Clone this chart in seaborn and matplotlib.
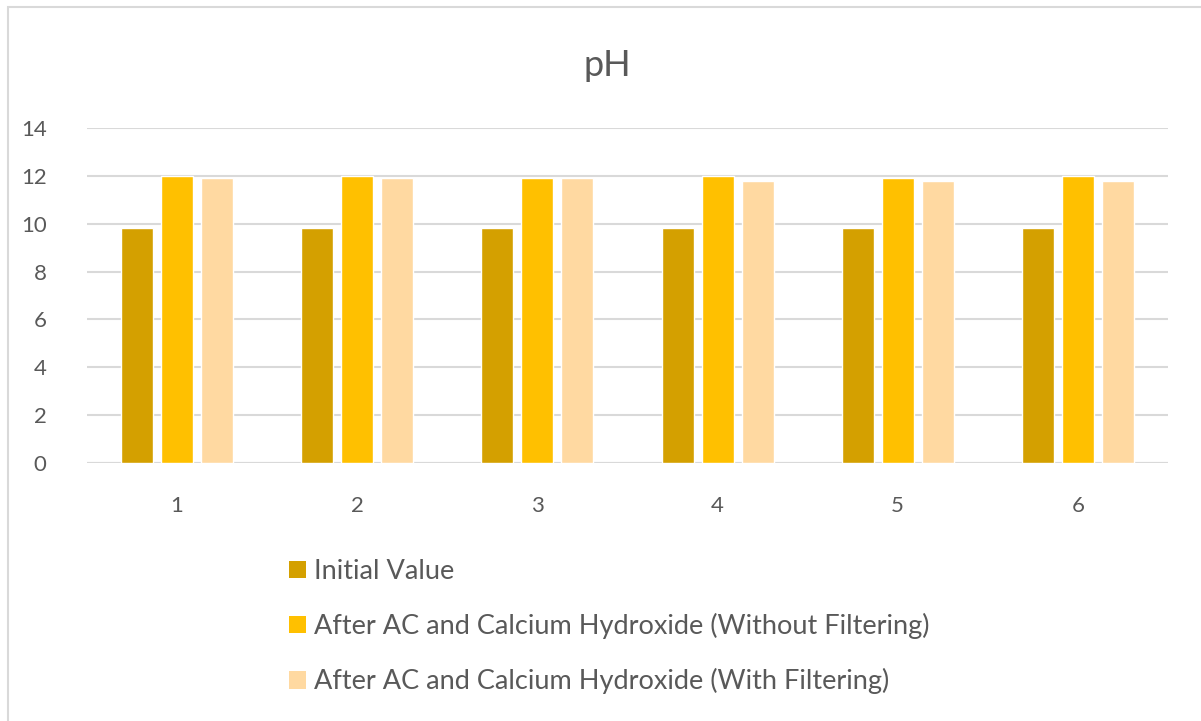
import matplotlib
matplotlib.use("Agg")
import matplotlib.pyplot as plt
from matplotlib.patches import Rectangle
import seaborn as sns
import pandas as pd

samples = ["1", "2", "3", "4", "5", "6"]
initial_value = [9.8, 9.8, 9.8, 9.8, 9.8, 9.8]
without_filtering = [12.0, 12.0, 11.9, 12.0, 11.9, 12.0]
with_filtering = [11.9, 11.9, 11.9, 11.8, 11.8, 11.8]

series_names = [
    "Initial Value",
    "After AC and Calcium Hydroxide (Without Filtering)",
    "After AC and Calcium Hydroxide (With Filtering)",
]
series_colors = ["#D4A000", "#FFC000", "#FFD9A1"]
y_ticks = [0, 2, 4, 6, 8, 10, 12, 14]

df = pd.DataFrame({
    "Sample": samples * 3,
    "pH": initial_value + without_filtering + with_filtering,
    "Series": [series_names[0]] * 6 + [series_names[1]] * 6 + [series_names[2]] * 6,
})

sns.set_theme(style="white")
plt.rcParams["font.family"] = ["Lato", "DejaVu Sans"]
text_color = "#595959"

fig = plt.figure(figsize=(12.01, 7.21), dpi=100)
ax = fig.add_axes([0.0724, 0.3578, 0.9001, 0.4647])

sns.barplot(
    data=df, x="Sample", y="pH", hue="Series", hue_order=series_names,
    palette=series_colors, width=0.666, gap=0.2, saturation=1,
    ax=ax, legend=False,
)

ax.set_xlim(-0.5, 5.5)
ax.set_ylim(0, 14)
ax.set_yticks(y_ticks)
ax.set_yticklabels([str(t) for t in y_ticks])
ax.yaxis.grid(True, color="#D9D9D9", linewidth=1.5)
ax.set_axisbelow(True)
for side in ["top", "right", "left", "bottom"]:
    ax.spines[side].set_visible(False)
ax.axhline(0, color="#D9D9D9", linewidth=1.5, zorder=0.5)
ax.set_xlabel("")
ax.set_ylabel("")
ax.tick_params(axis="both", length=0, labelsize=16, labelcolor=text_color)
ax.tick_params(axis="y", pad=29)
ax.tick_params(axis="x", pad=24)

fig.text(0.506, 0.909, "pH", ha="center", va="center", fontsize=26, color=text_color)

handles = [Rectangle((0, 0), 1, 1, facecolor=c, edgecolor="none") for c in series_colors]
fig.legend(
    handles, series_names, loc="upper left", bbox_to_anchor=(0.241, 0.225),
    frameon=False, fontsize=19.5, labelcolor=text_color,
    handlelength=0.6, handleheight=0.6, handletextpad=0.3, labelspacing=1.08,
    borderaxespad=0, borderpad=0,
)

# chart-area outline
fig.patches.append(Rectangle((8 / 1201, -0.01), 1.0, 1 - 7 / 721 + 0.01,
                             transform=fig.transFigure, fill=False,
                             edgecolor="#D9D9D9", linewidth=1.5))

fig.savefig("out.png", dpi=100)
